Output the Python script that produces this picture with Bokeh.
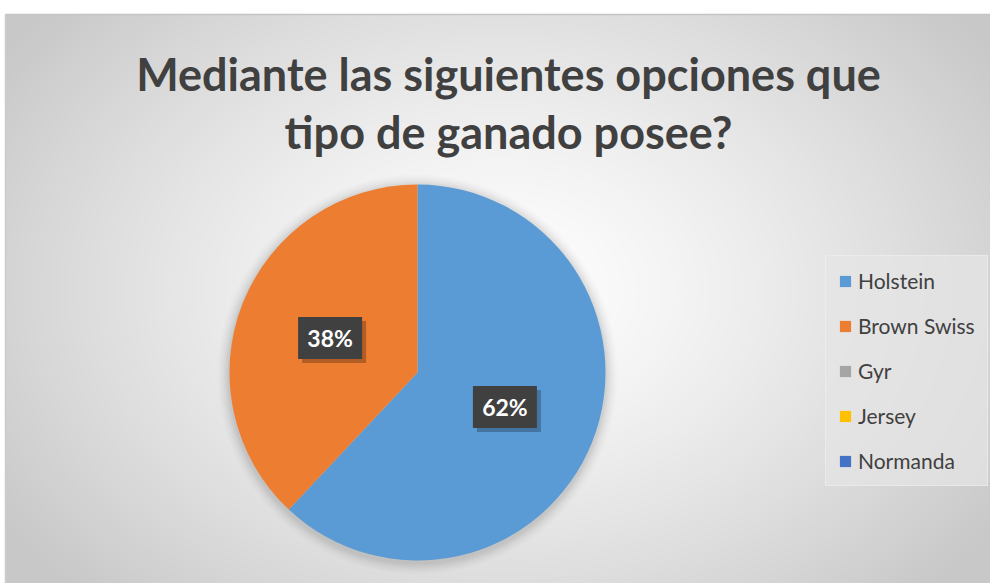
import numpy as np
from bokeh.plotting import figure
from bokeh.models import ColumnDataSource, Range1d, Legend, LegendItem
from bokeh.core.properties import value
from bokeh.embed import file_html
from bokeh.resources import INLINE

# ---- data ----
title_lines = ["Mediante las siguientes opciones que", "tipo de ganado posee?"]
categories = ["Holstein", "Brown Swiss", "Gyr", "Jersey", "Normanda"]
values = [62, 38, 0, 0, 0]
colors = ["#5B9BD5", "#ED7D31", "#A5A5A5", "#FFC000", "#4472C4"]

W, H = 990, 583
FONT = "Lato"

p = figure(width=W, height=H, x_range=Range1d(0, W), y_range=Range1d(0, H),
           output_backend="svg", toolbar_location=None, min_border=0)
p.axis.visible = False
p.grid.visible = False
p.outline_line_color = None
p.background_fill_color = "white"
p.border_fill_color = "white"

# ---- radial gradient background ----
x0 = 5
bw = W - x0
bh = 569
gx, gy = np.meshgrid(np.arange(bw), np.arange(bh))
sx = gx + x0
sy = H - gy
d = np.sqrt(((sx - 500) / 600.0) ** 2 + ((sy - 290) / 430.0) ** 2)
d = np.clip(d, 0, 1)
v = (255 - 55 * d ** 1.3).astype(np.uint8)
img = np.zeros((bh, bw), dtype=np.uint32)
view = img.view(dtype=np.uint8).reshape((bh, bw, 4))
view[:, :, 0] = v
view[:, :, 1] = v
view[:, :, 2] = v
view[:, :, 3] = 255
p.image_rgba(image=[img], x=x0, y=0, dw=bw, dh=bh)
p.line(x=[x0, W], y=[bh, bh], line_color="#c4c4c4", line_width=1.5)
p.line(x=[x0, x0], y=[0, bh], line_color="#cccccc", line_width=1.5)

# ---- pie ----
cx, cy, R = 417, 211, 188
vals = np.array(values, dtype=float)
frac = vals / vals.sum()
cum = np.concatenate([[0], np.cumsum(frac)])
start = np.pi / 2 - 2 * np.pi * cum[:-1]
end = np.pi / 2 - 2 * np.pi * cum[1:]
radii = np.where(vals > 0, R, 0)
src = ColumnDataSource(dict(cat=categories, color=colors, start=start, end=end, r=radii,
                            x=[cx] * len(categories), y=[cy] * len(categories)))

# soft shadow around pie
for i, a in enumerate([0.035, 0.03, 0.025, 0.02, 0.015, 0.01]):
    p.circle(x=cx, y=cy - 2, radius=R + 2 + 2 * i, radius_units="screen",
             fill_color="black", fill_alpha=a, line_color=None)

wr = p.wedge(x="x", y="y", radius="r", radius_units="screen",
             start_angle="start", end_angle="end", direction="clock",
             fill_color="color", line_color=None, source=src)

# ---- data labels ----
mid = (start + end) / 2
nz = vals > 0
lab_r = 94
lx = cx + lab_r * np.cos(mid[nz])
ly = cy + lab_r * np.sin(mid[nz])
ltxt = ["%d%%" % round(f * 100) for f in frac[nz]]
lsrc = ColumnDataSource(dict(x=lx, y=ly, sx=lx + 4, sy=ly - 4, t=ltxt))
p.rect(x="sx", y="sy", width=64, height=42, width_units="screen", height_units="screen",
       fill_color="black", fill_alpha=0.25, line_color=None, source=lsrc)
p.rect(x="x", y="y", width=64, height=42, width_units="screen", height_units="screen",
       fill_color="#404040", line_color=None, source=lsrc)
p.text(x="x", y="y", text="t", text_align="center", text_baseline="middle",
       text_color="white", text_font=value(FONT), text_font_style="bold",
       text_font_size="23px", source=lsrc)

# ---- title ----
tsrc = ColumnDataSource(dict(x=[508, 508], y=[H - 73, H - 131], t=title_lines))
p.text(x="x", y="y", text="t", text_align="center", text_baseline="alphabetic",
       text_color="#404040", text_font=value(FONT), text_font_style="bold",
       text_font_size="45px", source=tsrc)

# ---- legend ----
items = [LegendItem(label=c, renderers=[wr], index=i) for i, c in enumerate(categories)]
legend = Legend(items=items, location=(825, H - 486), orientation="vertical",
                glyph_width=14, glyph_height=14, label_height=20, spacing=20,
                padding=12, margin=0, label_standoff=6,
                label_text_font=FONT, label_text_font_size="21px",
                label_text_color="#404040",
                background_fill_color="#e6e6e6", background_fill_alpha=0.7,
                border_line_color="#f0f0f0", border_line_alpha=0.6)
p.add_layout(legend, "center")

open("out.html", "w").write(file_html(p, INLINE))
